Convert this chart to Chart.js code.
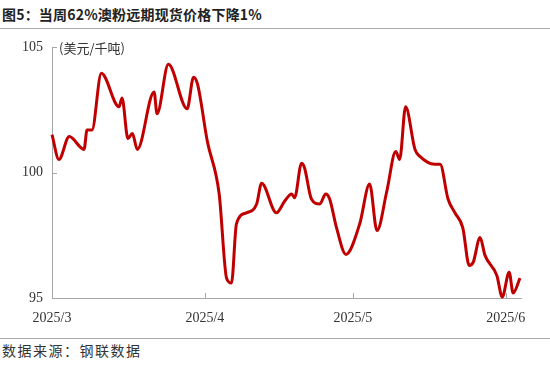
<!DOCTYPE html>
<html>
<head>
<meta charset="utf-8">
<script src="https://cdn.jsdelivr.net/npm/chart.js@4"></script>
<style>
    body { margin: 0; background: #fff; width: 550px; height: 367px; position: relative; overflow: hidden; }
    #title { position: absolute; left: 2px; top: 4px; font: bold 14px "Noto Sans CJK SC", sans-serif; color: #222; white-space: nowrap; letter-spacing: 0.2px; }
    .rule { position: absolute; left: 0; width: 550px; height: 1px; background: #aaa; }
    #source { position: absolute; left: 2px; top: 340px; font: 14px "Noto Sans CJK SC", sans-serif; color: #333; white-space: nowrap; letter-spacing: 1.5px; }
    #wrap { position: absolute; left: 0; top: 30px; width: 550px; height: 306px; }
</style>
</head>
<body>
<div id="title">图5：当周62%澳粉远期现货价格下降1%</div>
<div class="rule" style="top:28px"></div>
<div id="wrap"><canvas id="price-chart"></canvas></div>
<div class="rule" style="top:338px"></div>
<div id="source">数据来源：钢联数据</div>
<script>
// days counted from 2025/3/1
const dayOffsets = [
    0.0, 1.4, 3.5, 6.5, 7.1, 8.1, 10.0, 13.6, 14.2, 15.4, 16.3, 17.3, 20.7, 21.3, 23.6,
    27.4, 28.7, 29.5, 31.5, 33.9, 35.4, 36.4, 37.4, 39.4, 41.5, 42.5, 45.5, 47.2, 48.6,
    49.2, 50.6, 51.2, 52.6, 54.3, 55.5, 56.3, 57.7, 59.6, 62.4, 64.4, 65.9, 67.9, 69.7,
    70.5, 71.7, 73.6, 74.6, 77.6, 78.7, 80.3, 81.7, 83.3, 84.6, 85.4, 86.8, 87.8, 90.2,
    91.3, 92.7, 93.5, 94.9
];
const prices = [
    101.52, 100.53, 101.44, 100.93, 101.70, 101.70, 103.97, 102.63, 102.98, 101.36, 101.56, 100.93, 103.22, 102.35, 104.33,
    102.55, 103.81, 103.54, 101.25, 99.15, 95.79, 95.60, 97.96, 98.40, 98.75, 99.58, 98.40, 98.87, 99.15,
    99.00, 100.38, 100.20, 98.95, 98.75, 99.15, 98.95, 97.80, 96.74, 97.96, 99.55, 97.69, 99.27, 100.85,
    100.53, 102.63, 100.93, 100.65, 100.34, 100.34, 98.95, 98.40, 97.80, 96.30, 96.42, 97.41, 96.70, 95.90,
    95.04, 96.03, 95.20, 95.79
];
const monthTicks = [0, 31, 61, 92];
const monthLabels = ['2025/3', '2025/4', '2025/5', '2025/6'];
const unitLabel = '(美元/千吨)';

const axisColor = '#a6a6a6';
const lineColor = '#c00000';

const innerTicks = {
    id: 'innerTicks',
    afterDraw(chart) {
        const { ctx, chartArea, scales } = chart;
        ctx.save();
        ctx.strokeStyle = axisColor;
        ctx.lineWidth = 1;
        scales.y.ticks.forEach(t => {
            const y = Math.round(scales.y.getPixelForValue(t.value)) + 0.5;
            ctx.beginPath();
            ctx.moveTo(chartArea.left, y);
            ctx.lineTo(chartArea.left + 5, y);
            ctx.stroke();
        });
        scales.x.ticks.forEach(t => {
            const x = Math.round(scales.x.getPixelForValue(t.value)) + 0.5;
            ctx.beginPath();
            ctx.moveTo(x, chartArea.bottom);
            ctx.lineTo(x, chartArea.bottom - 5);
            ctx.stroke();
        });
        ctx.fillStyle = '#333';
        ctx.font = '13px "Noto Sans CJK SC", sans-serif';
        ctx.textBaseline = 'middle';
        ctx.fillText(unitLabel, chartArea.left + 7, chartArea.top + 1);
        ctx.restore();
    }
};

const ctx = document.getElementById('price-chart').getContext('2d');
new Chart(ctx, {
    type: 'line',
    data: {
        datasets: [{
            data: dayOffsets.map((d, i) => ({ x: d, y: prices[i] })),
            borderColor: lineColor,
            borderWidth: 3,
            pointRadius: 0,
            cubicInterpolationMode: 'monotone',
            fill: false
        }]
    },
    options: {
        responsive: true,
        maintainAspectRatio: false,
        animation: false,
        layout: { padding: { top: 15, right: 29, left: 0, bottom: 0 } },
        plugins: { legend: { display: false }, tooltip: { enabled: false } },
        clip: false,
        scales: {
            x: {
                type: 'linear',
                min: 0,
                max: 95.1,
                afterBuildTicks: scale => {
                    scale.ticks = monthTicks.map(v => ({ value: v }));
                },
                afterFit: scale => { scale.height = 38; },
                ticks: {
                    callback: (value) => monthLabels[monthTicks.indexOf(value)],
                    font: { family: '"Liberation Serif", "Times New Roman", serif', size: 14 },
                    color: '#333',
                    padding: 12,
                    maxRotation: 0
                },
                grid: { display: true, drawOnChartArea: false, drawTicks: false },
                border: { display: true, color: axisColor, width: 1 }
            },
            y: {
                min: 95,
                max: 105,
                afterBuildTicks: scale => {
                    scale.ticks = [95, 100, 105].map(v => ({ value: v }));
                },
                afterFit: scale => { scale.width = 52; },
                ticks: {
                    font: { family: '"Liberation Serif", "Times New Roman", serif', size: 14 },
                    color: '#333',
                    padding: 9
                },
                grid: { display: true, drawOnChartArea: false, drawTicks: false },
                border: { display: true, color: axisColor, width: 1 }
            }
        }
    },
    plugins: [innerTicks]
});
</script>
</body>
</html>
